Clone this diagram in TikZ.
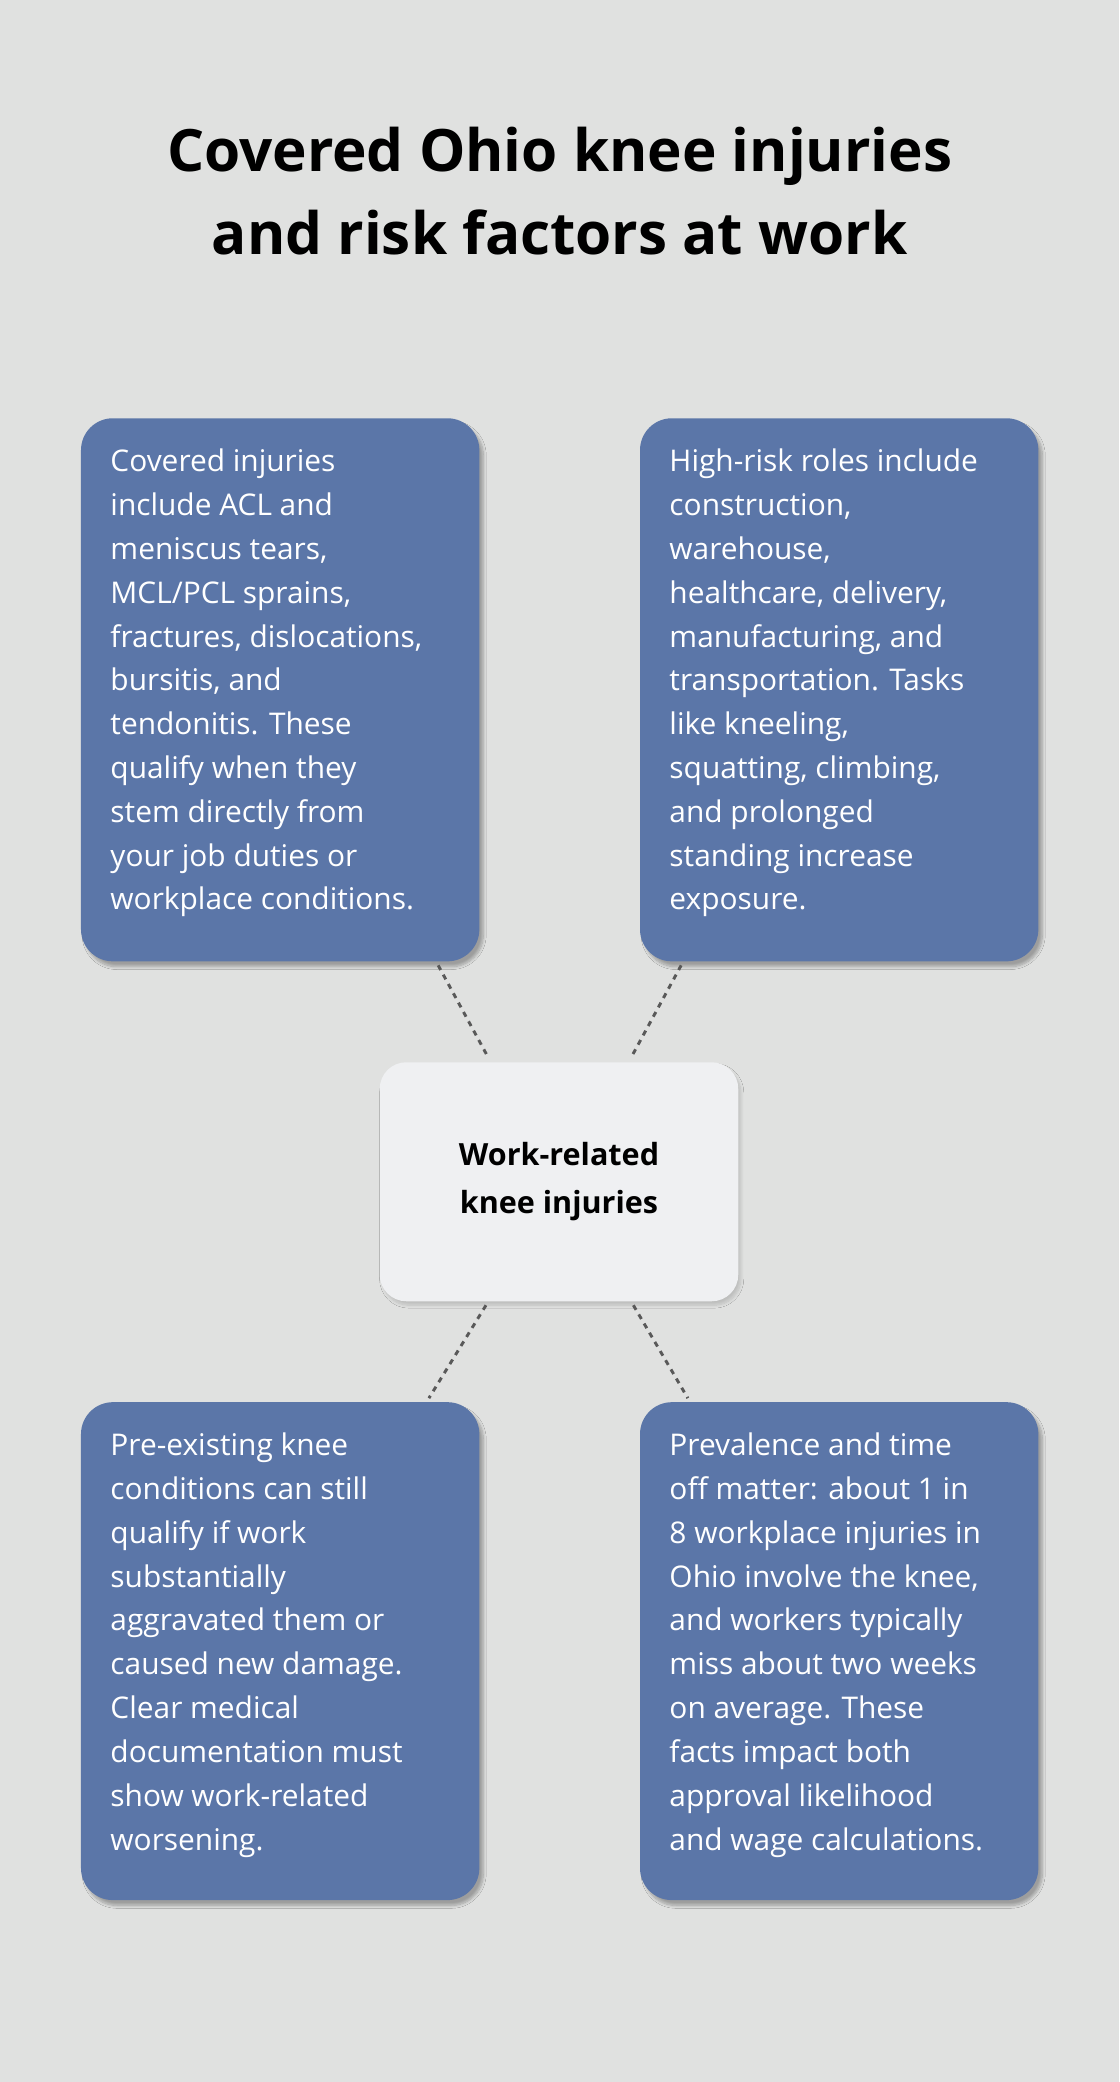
\documentclass[tikz,border=0pt]{standalone}
\usepackage{fontspec}
\setmainfont{Open Sans}
\usetikzlibrary{shadows.blur}
\definecolor{bg}{HTML}{E0E1E0}
\definecolor{boxc}{HTML}{5B76A8}
\definecolor{cen}{HTML}{EFF0F2}
\begin{document}
\begin{tikzpicture}[x=1pt,y=-1pt,
 card/.style={fill=boxc,rounded corners=24pt,blur shadow={shadow blur steps=8,shadow xshift=3pt,shadow yshift=-4pt,shadow opacity=30}},
 txt/.style={anchor=north west,inner sep=0,align=left,text=white,font=\fontsize{22.5}{33}\selectfont},
 link/.style={draw=black!65,line width=2.2pt,dash pattern=on 4pt off 4pt}]
\fill[bg] (0,0) rectangle (843,1568);
\useasboundingbox (0,0) rectangle (843,1568);
\node[font=\bfseries\fontsize{44}{63}\selectfont,align=center] (title) at (421.5,144) {Covered Ohio knee injuries\\and risk factors at work};
\path[card] (61,315) rectangle (361,724);
\path[card] (482,315) rectangle (782,724);
\path[card] (61,1056) rectangle (361,1431);
\path[card] (482,1056) rectangle (782,1431);
\path[fill=cen,rounded corners=20pt,blur shadow={shadow blur steps=8,shadow xshift=2pt,shadow yshift=-3pt,shadow opacity=15}] (286,800) rectangle (556,980);
\node[font=\bfseries\fontsize{23}{36}\selectfont,align=center] (c) at (421,890) {Work-related\\knee injuries};
\node[txt] (t1) at (83,338) {Covered injuries\\include ACL and\\meniscus tears,\\MCL/PCL sprains,\\fractures, dislocations,\\bursitis, and\\tendonitis. These\\qualify when they\\stem directly from\\your job duties or\\workplace conditions.};
\node[txt] (t2) at (504,338) {High-risk roles include\\construction,\\warehouse,\\healthcare, delivery,\\manufacturing, and\\transportation. Tasks\\like kneeling,\\squatting, climbing,\\and prolonged\\standing increase\\exposure.};
\node[txt] (t3) at (83,1079) {Pre-existing knee\\conditions can still\\qualify if work\\substantially\\aggravated them or\\caused new damage.\\Clear medical\\documentation must\\show work-related\\worsening.};
\node[txt] (t4) at (504,1079) {Prevalence and time\\off matter: about 1 in\\8 workplace injuries in\\Ohio involve the knee,\\and workers typically\\miss about two weeks\\on average. These\\facts impact both\\approval likelihood\\and wage calculations.};
\coordinate (a1) at (330,727); \coordinate (b1) at (368,797);
\coordinate (a2) at (513,727); \coordinate (b2) at (475,797);
\coordinate (a3) at (366,983); \coordinate (b3) at (323,1053);
\coordinate (a4) at (477,983); \coordinate (b4) at (518,1053);
\draw[link] (a1)--(b1); \draw[link] (a2)--(b2);
\draw[link] (a3)--(b3); \draw[link] (a4)--(b4);
\end{tikzpicture}
\end{document}
